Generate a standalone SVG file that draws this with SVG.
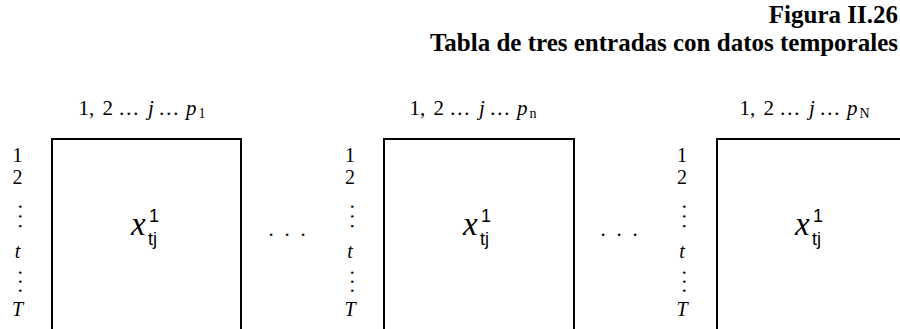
<svg xmlns="http://www.w3.org/2000/svg" width="900" height="329" viewBox="0 0 900 329">
<style>
.title{font-family:"Liberation Serif","Times New Roman",serif;font-weight:bold;font-size:25px;fill:#000;text-anchor:end}
.hd{font-family:"Liberation Serif","Times New Roman",serif;font-size:21px;fill:#000}
.it{font-style:italic}
.sb{font-size:14px}
.lb{font-family:"Liberation Serif","Times New Roman",serif;font-size:20px;fill:#000;text-anchor:middle}
.vd{font-family:"Liberation Serif","Times New Roman",serif;font-size:21px;fill:#000}
.box{fill:none;stroke:#000;stroke-width:2}
.cx{font-family:"Liberation Serif","Times New Roman",serif;font-style:italic;font-size:33px;fill:#000}
.cs{font-family:"Liberation Sans",Arial,sans-serif;font-size:18px;fill:#000}
.dt{font-family:"Liberation Serif","Times New Roman",serif;font-size:21px;fill:#000;text-anchor:middle}
</style>
<rect width="900" height="329" fill="#fff"/>
<g id="title">
<text class="title" x="898" y="23">Figura II.26</text>
<text class="title" x="898" y="51">Tabla de tres entradas con datos temporales</text>
</g>
<g id="node-1">
<rect class="box" x="52" y="139" width="189" height="210"/>
<text class="hd" y="115"><tspan x="78.5">1,</tspan><tspan x="102.5">2</tspan><tspan x="118.3">…</tspan><tspan x="148" class="it">j</tspan><tspan x="158.3">…</tspan><tspan x="186" class="it">p</tspan><tspan x="198.5" dy="3" class="sb">1</tspan></text>
<text class="lb" x="17.5" y="162">1</text>
<text class="lb" x="17.5" y="184">2</text>
<text class="vd" transform="translate(18.5,204.1) rotate(90)" letter-spacing="4.4">...</text>
<text class="lb it" x="17.5" y="258">t</text>
<text class="vd" transform="translate(18.5,270.1) rotate(90)" letter-spacing="3.75">...</text>
<text class="lb it" x="17.5" y="316">T</text>
<text class="cx" x="131" y="235">x</text>
<text class="cs" x="149" y="222">1</text>
<text class="cs" x="148" y="245">tj</text>
</g>
<g id="node-2">
<rect class="box" x="384" y="139" width="190" height="210"/>
<text class="hd" y="115"><tspan x="409.5">1,</tspan><tspan x="433.5">2</tspan><tspan x="449.3">…</tspan><tspan x="479" class="it">j</tspan><tspan x="489.3">…</tspan><tspan x="517" class="it">p</tspan><tspan x="529.5" dy="3" class="sb">n</tspan></text>
<text class="lb" x="350" y="162">1</text>
<text class="lb" x="350" y="184">2</text>
<text class="vd" transform="translate(351,204.1) rotate(90)" letter-spacing="4.4">...</text>
<text class="lb it" x="350" y="258">t</text>
<text class="vd" transform="translate(351,270.1) rotate(90)" letter-spacing="3.75">...</text>
<text class="lb it" x="350" y="316">T</text>
<text class="cx" x="463" y="235">x</text>
<text class="cs" x="481" y="222">1</text>
<text class="cs" x="480" y="245">tj</text>
</g>
<g id="node-3">
<rect class="box" x="717" y="139" width="190" height="210"/>
<text class="hd" y="115"><tspan x="739.5">1,</tspan><tspan x="763.5">2</tspan><tspan x="779.3">…</tspan><tspan x="809" class="it">j</tspan><tspan x="819.3">…</tspan><tspan x="847" class="it">p</tspan><tspan x="859.5" dy="3" class="sb">N</tspan></text>
<text class="lb" x="682" y="162">1</text>
<text class="lb" x="682" y="184">2</text>
<text class="vd" transform="translate(683,204.1) rotate(90)" letter-spacing="4.4">...</text>
<text class="lb it" x="682" y="258">t</text>
<text class="vd" transform="translate(683,270.1) rotate(90)" letter-spacing="3.75">...</text>
<text class="lb it" x="682" y="316">T</text>
<text class="cx" x="795" y="235">x</text>
<text class="cs" x="813" y="222">1</text>
<text class="cs" x="812" y="245">tj</text>
</g>
<g id="ellipses">
<text class="dt" y="236"><tspan x="271">.</tspan><tspan x="287">.</tspan><tspan x="303">.</tspan></text>
<text class="dt" y="236"><tspan x="603">.</tspan><tspan x="619">.</tspan><tspan x="635">.</tspan></text>
</g>
<g id="connectors"/>
</svg>
